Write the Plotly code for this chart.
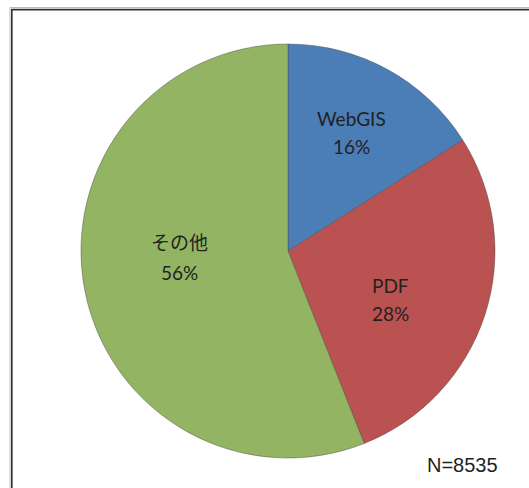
import plotly.graph_objects as go

# Share of survey responses by delivery format
categories = ["WebGIS", "PDF", "その他"]
shares = [16, 28, 56]
colors = ["#4B7DB6", "#BA5252", "#93B463"]
sample_note = "N=8535"

W, H = 529, 488
cx, cy, r = 288, 251, 207  # pie centre and radius in pixels

# Label anchor points (pixels) for each slice: name line and percent line
label_xy = {
    "WebGIS": (351, 118, 146),
    "PDF": (390, 285, 313),
    "その他": (179, 242, 272),
}

fig = go.Figure(
    go.Pie(
        labels=categories,
        values=shares,
        sort=False,
        direction="clockwise",
        rotation=0,
        marker=dict(colors=colors, line=dict(color="rgba(70,70,70,0.55)", width=0.8)),
        textinfo="none",
        showlegend=False,
        hoverinfo="label+percent",
        domain=dict(
            x=[(cx - r) / W, (cx + r) / W],
            y=[(H - cy - r) / H, (H - cy + r) / H],
        ),
    )
)

label_font = dict(family="Lato, 'Noto Sans CJK JP'", size=19, color="#222222")
total = sum(shares)
for name, val in zip(categories, shares):
    x, y_name, y_pct = label_xy[name]
    pct = f"{round(100 * val / total)}%"
    for txt, y in ((name, y_name), (pct, y_pct)):
        fig.add_annotation(
            text=txt, xref="paper", yref="paper",
            x=x / W, y=(H - y) / H, xanchor="center", yanchor="middle",
            showarrow=False, font=label_font,
        )

# Chart frame (open on the right and bottom edges of the view)
fig.add_shape(type="rect", xref="paper", yref="paper",
              x0=10 / W, x1=1.2, y0=-0.2, y1=(H - 7.5) / H,
              line=dict(color="#BBBBBB", width=1), fillcolor="rgba(0,0,0,0)")
fig.add_shape(type="rect", xref="paper", yref="paper",
              x0=11.8 / W, x1=1.2, y0=-0.2, y1=(H - 9.6) / H,
              line=dict(color="#2E2E2E", width=1.6), fillcolor="rgba(0,0,0,0)")

fig.add_annotation(
    text=sample_note, xref="paper", yref="paper",
    x=500 / W, y=(H - 465) / H, xanchor="right", yanchor="middle",
    showarrow=False,
    font=dict(family="'Liberation Sans', Arial", size=20, color="#222222"),
)

fig.update_layout(
    width=W, height=H,
    margin=dict(l=0, r=0, t=0, b=0),
    paper_bgcolor="white",
    plot_bgcolor="white",
)

fig.write_html("out.html")
